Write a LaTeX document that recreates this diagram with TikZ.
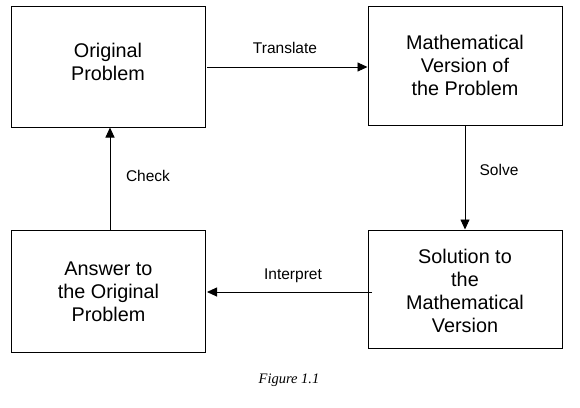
\documentclass[tikz,border=0pt]{standalone}
\usepackage{fontspec}
\setmainfont{Liberation Sans}
\newfontfamily\figfont{Liberation Serif}
\usetikzlibrary{arrows.meta}
\newcommand{\boxtext}[2]{\raisebox{#1}[\height][\depth]{\begin{tabular}{@{}c@{}}#2\end{tabular}}}
\begin{document}
\begin{tikzpicture}[x=1pt,y=-1pt,
  box/.style={draw, line width=1pt, minimum width=194pt, align=center,
    font=\fontsize{19.8}{23}\selectfont, inner sep=0pt},
  lbl/.style={font=\fontsize{15.5}{17}\selectfont},
  arr/.style={-{Triangle[length=10pt,width=9pt]}, line width=0.9pt}]
\useasboundingbox (0,0) rectangle (580,407);
\node[box, minimum height=121pt] (op)  at (108,66.5)  {\boxtext{2pt}{Original\\Problem}};
\node[box, minimum height=119pt] (mv)  at (465,65.5)  {\boxtext{-2pt}{Mathematical\\Version of\\the Problem}};
\node[box, minimum height=122pt] (ans) at (108.5,291) {\boxtext{-2.5pt}{Answer to\\the Original\\Problem}};
\node[box, minimum height=118pt] (sol) at (465,289)   {\boxtext{-4.5pt}{Solution to\\the\\Mathematical\\Version}};
\coordinate (t1) at (207,67);
\coordinate (t2) at (368,67);
\coordinate (i1) at (372,292);
\coordinate (i2) at (207,292);
\draw[arr] (t1) -- (mv.west |- t2);
\draw[arr] (mv.south) -- (sol.north);
\draw[arr] (i1) -- (i2);
\draw[arr] (ans.north -| 110,0) -- (op.south -| 110,0);
\node[lbl] (lt) at (285,48)  {Translate};
\node[lbl] (ls) at (499,170) {Solve};
\node[lbl] (lc) at (148,176) {Check};
\node[lbl] (li) at (293,276) {Interpret};
\node[font=\figfont\itshape\fontsize{14.5}{16}\selectfont] (fig) at (289,380) {Figure 1.1};
\end{tikzpicture}
\end{document}
